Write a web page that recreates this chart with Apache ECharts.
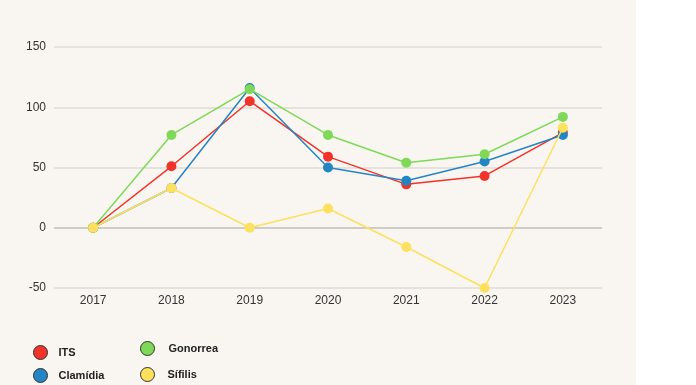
<!DOCTYPE html>
<html><head><meta charset="utf-8">
<script src="https://cdn.jsdelivr.net/npm/echarts@6/dist/echarts.min.js"></script>
<style>html,body{margin:0;padding:0;background:#fff}#c{width:696px;height:385px}</style>
</head><body><div id="c"></div>
<script>
const categories = ['2017','2018','2019','2020','2021','2022','2023'];
const its = [0, 51, 105, 59, 36, 43, 79];
const clamidia = [0, 33, 116, 50, 39, 55, 77];
const gonorrea = [0, 77, 115, 77, 54, 61, 92];
const sifilis = [0, 33, 0, 16, -16, -50, 83];
const yTicks = [-50, 0, 50, 100, 150];

const names = ['ITS','Clamídia','Gonorrea','Sífilis'];
const colors = ['#f2332a','#2385c4','#7ed957','#fde05c'];
const datas = [its, clamidia, gonorrea, sifilis];
const legendPos = [[33,345],[33,368],[140,341],[140,367]];
const legendPad = [6,6,9,8];

const chart = echarts.init(document.getElementById('c'));
chart.setOption({
  backgroundColor:'#ffffff',
  animation:false,
  graphic:[{type:'rect', z:-10, shape:{x:0,y:0,width:636,height:385}, style:{fill:'#f9f6f1'}}],
  grid:{left:54, right:94, top:47, bottom:97},
  xAxis:{type:'category', data:categories, boundaryGap:true,
    axisLine:{show:false}, axisTick:{show:false},
    axisLabel:{color:'#333', fontSize:12, fontFamily:'Liberation Sans, Arial, sans-serif', margin:7}},
  yAxis:{type:'value', min:yTicks[0], max:yTicks[yTicks.length-1], interval:50,
    axisLine:{show:false}, axisTick:{show:false},
    axisLabel:{color:'#333', fontSize:12, fontFamily:'Liberation Sans, Arial, sans-serif', margin:8},
    splitLine:{lineStyle:{color:'#dedbd6', width:1.5}}},
  legend: names.map((n,i)=>({data:[n], left:legendPos[i][0], top:legendPos[i][1], padding:0,
     itemWidth:14, itemHeight:14, icon:'circle',
     itemStyle:{borderColor:'#333', borderWidth:1},
     textStyle:{fontFamily:'Liberation Sans, Arial, sans-serif', fontWeight:'bold', fontSize:11, color:'#222', padding:[0,0,0,legendPad[i]]}})),
  series: names.map((n,i)=>({
    name:n, type:'line', data:datas[i], symbol:'circle', symbolSize:10,
    lineStyle:{color:colors[i], width:1.5}, itemStyle:{color:colors[i]},
    z:2+i,
    markLine: i===0 ? {silent:true, symbol:'none', label:{show:false},
      lineStyle:{color:'#cfcbc5', width:2, type:'solid'}, data:[{yAxis:0}], z:1} : undefined
  }))
});
</script></body></html>
